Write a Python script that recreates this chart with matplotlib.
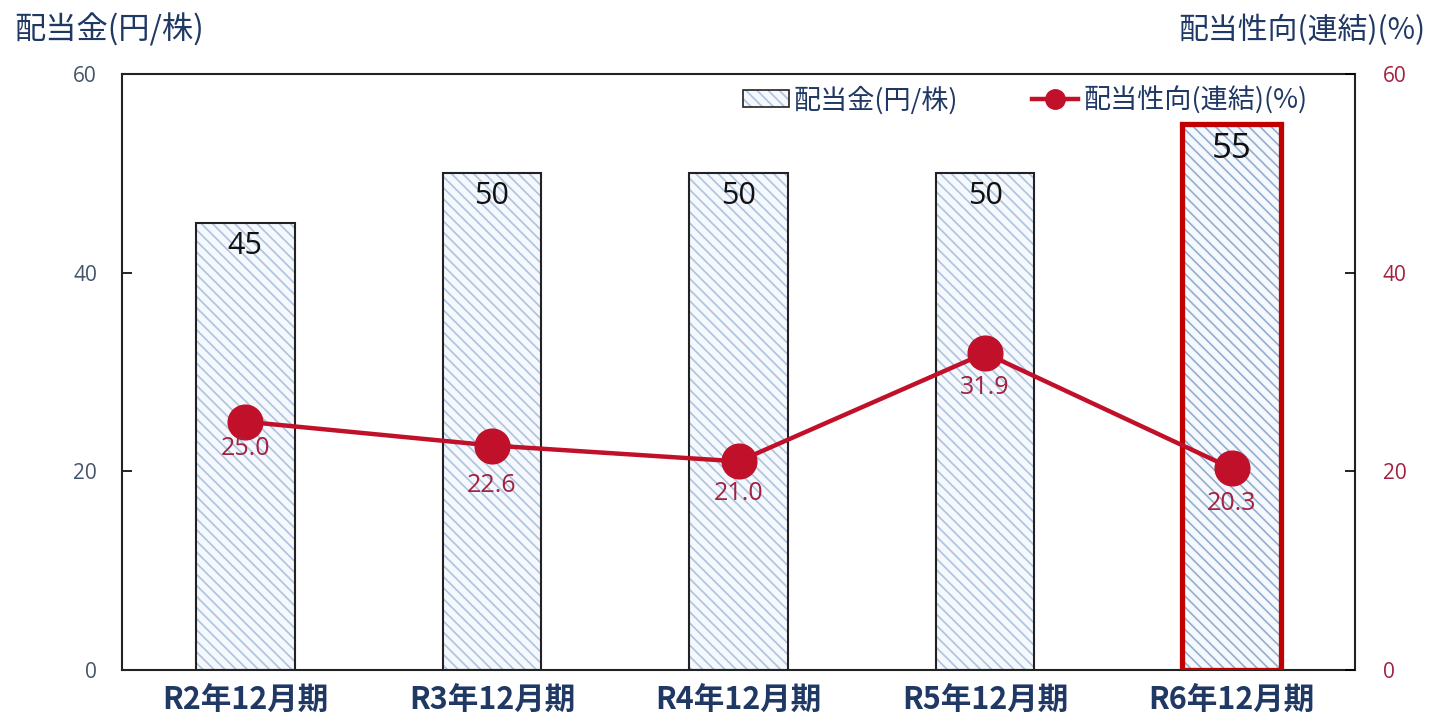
import matplotlib
matplotlib.use("Agg")
import matplotlib.pyplot as plt
from matplotlib.patches import Patch
from matplotlib.lines import Line2D
from matplotlib.legend_handler import HandlerTuple
import numpy as np

plt.rcParams['font.family'] = ['Noto Sans CJK JP', 'DejaVu Sans']

categories = ["R2年12月期", "R3年12月期", "R4年12月期", "R5年12月期", "R6年12月期"]
dividend = [45, 50, 50, 50, 55]
payout = [25.0, 22.6, 21.0, 31.9, 20.3]
yticks = [0, 20, 40, 60]

label_offsets = [-19.5, -29, -23, -24.5, -25]  # points below marker (label centre)

blue_dark = '#1f3864'
tick_left = '#44546a'
red_line = '#c0102a'
red_label = '#a3203f'
hatch_col = '#adc3de'
face_col = '#f5f8fc'

fig = plt.figure(figsize=(14.38, 7.25), dpi=100)
ax = fig.add_axes([122/1438, 1 - 670/725, (1355-122)/1438, (670-74)/725])
x = np.arange(len(categories))
w = 0.4

plt.rcParams['hatch.linewidth'] = 1.2
hatch_cols = [hatch_col] * (len(categories) - 1) + ['#93aed0']
for i in range(len(categories)):
    ax.bar(x[i], dividend[i], width=w, color=face_col, edgecolor=hatch_cols[i],
           hatch='\\\\\\', linewidth=0, zorder=2)
edgecols = ['#222222'] * (len(categories) - 1) + ['#c00000']
lws = [1.5] * (len(categories) - 1) + [3.8]
ax.bar(x, dividend, width=w, fill=False, edgecolor=edgecols, linewidth=lws, zorder=3)

for i, v in enumerate(dividend):
    fs = 25 if i == len(dividend) - 1 else 22
    ax.text(x[i], v - 0.8, f"{v}", ha='center', va='top', fontsize=fs,
            family=['Open Sans', 'DejaVu Sans'], color='#111111', zorder=5)

ax.set_xlim(-0.5, len(categories) - 0.5)
ax.set_ylim(0, 60)
ax.set_yticks(yticks)
ax.set_xticks(x)
ax.set_xticklabels(categories, fontsize=22, fontweight='bold', color=blue_dark)
ax.tick_params(axis='x', length=0, pad=10)
ax.tick_params(axis='y', direction='in', length=7, width=1.2, labelsize=15,
               labelcolor=tick_left, pad=18)
for lab in ax.get_yticklabels():
    lab.set_family(['Open Sans', 'DejaVu Sans'])
for s in ax.spines.values():
    s.set_linewidth(1.5)
    s.set_color('#222222')

ax2 = ax.twinx()
ax2.set_ylim(0, 60)
ax2.set_yticks(yticks)
ax2.tick_params(axis='y', direction='in', length=7, width=1.2, labelsize=15,
                labelcolor=red_label, pad=20)
for lab in ax2.get_yticklabels():
    lab.set_family(['Open Sans', 'DejaVu Sans'])
for s in ax2.spines.values():
    s.set_visible(False)

ax2.plot(x, payout, color=red_line, linewidth=3.2, marker='o', markersize=25,
         markerfacecolor=red_line, markeredgecolor=red_line, zorder=6)
for i, v in enumerate(payout):
    ax2.annotate(f"{v:.1f}", (x[i], v), xytext=(0, label_offsets[i]),
                 textcoords='offset points', ha='center', va='center',
                 fontsize=18, color=red_label, family=['Open Sans', 'DejaVu Sans'], zorder=7)

fig.text(14/1438, 1 - 30/725, "配当金(円/株)", fontsize=22.5, color=blue_dark,
         ha='left', va='center')
fig.text(1425/1438, 1 - 30/725, "配当性向(連結)(%)", fontsize=21.5, color=blue_dark,
         ha='right', va='center')

bar_handle = (Patch(facecolor=face_col, edgecolor=hatch_col, hatch='\\\\\\', linewidth=0),
              Patch(fill=False, edgecolor='#222222', linewidth=1.2))
line_handle = Line2D([0], [0], color=red_line, linewidth=3.2, marker='o', markersize=14)
leg = ax2.legend([bar_handle, line_handle], ["配当金(円/株)", "配当性向(連結)(%)"],
                 handler_map={tuple: HandlerTuple(ndivide=1, pad=0)},
                 loc='center right',
                 bbox_to_anchor=(0.97, 0.956), ncol=2, frameon=False, fontsize=19.5,
                 columnspacing=2.7, handlelength=1.7, handleheight=0.6,
                 handletextpad=0.2, labelcolor=blue_dark, borderaxespad=0)

fig.savefig("out.png", dpi=100)
